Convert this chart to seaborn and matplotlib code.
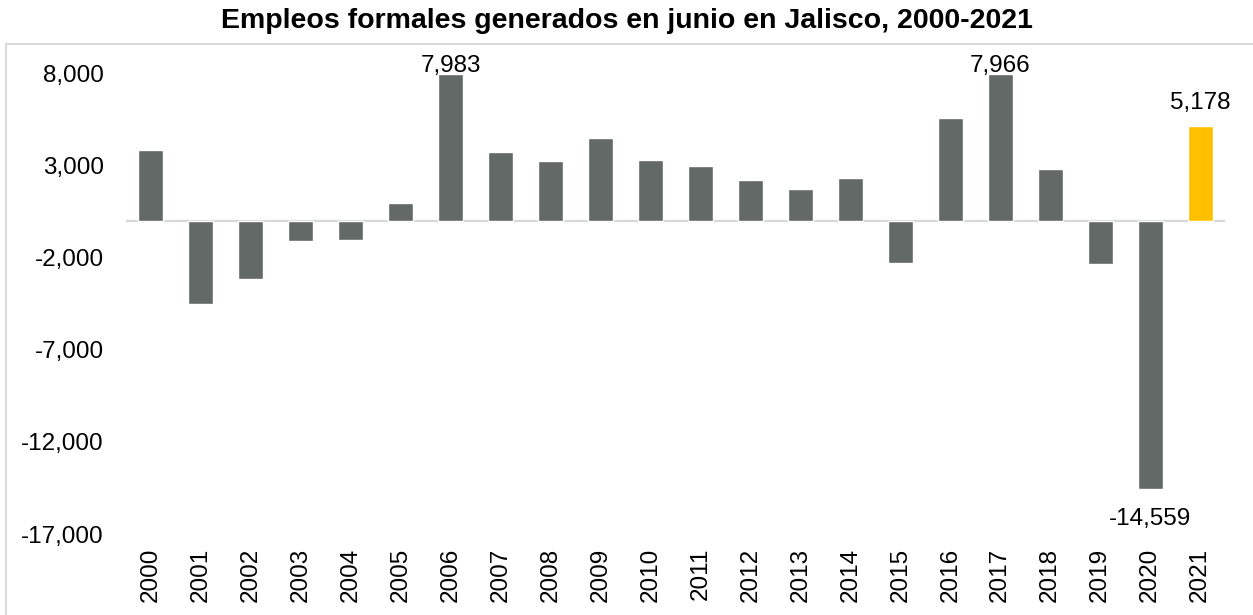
import matplotlib
matplotlib.use("Agg")
import matplotlib.pyplot as plt
import seaborn as sns
import pandas as pd
from matplotlib.lines import Line2D
from matplotlib.ticker import FuncFormatter

years = [str(y) for y in range(2000, 2022)]
empleos = [3840, -4525, -3150, -1090, -1030, 980, 7983, 3750, 3240, 4490, 3310,
           3000, 2210, 1740, 2320, -2300, 5610, 7966, 2820, -2350, -14559, 5178]
labeled_years = ["2006", "2017", "2020", "2021"]
yticks = [-17000, -12000, -7000, -2000, 3000, 8000]
title = "Empleos formales generados en junio en Jalisco, 2000-2021"

GRAY = "#626967"
YELLOW = "#FFC000"
LINE = "#D9D9D9"

sns.set_theme(style="white")
plt.rcParams["font.family"] = ["Liberation Sans", "DejaVu Sans"]

df = pd.DataFrame({"year": years, "value": empleos})
palette = {y: (YELLOW if y == "2021" else GRAY) for y in years}

W, H = 1253, 615
FS = 17.5
fig = plt.figure(figsize=(W / 100, H / 100), dpi=100)
ax = fig.add_axes([126 / W, 1 - 534 / H, (1225 - 126) / W, (534 - 73.7) / H])

sns.barplot(data=df, x="year", y="value", hue="year", palette=palette,
            legend=False, width=0.5, ax=ax, saturation=1)

ax.set_xlim(-0.5, len(years) - 0.5)
ax.set_ylim(-17000, 8000)
ax.set_yticks(yticks)
ax.yaxis.set_major_formatter(FuncFormatter(lambda v, p: f"{int(v):,}"))
ax.axhline(0, color=LINE, lw=1.6, zorder=0)
for s in ax.spines.values():
    s.set_visible(False)
ax.set_xlabel("")
ax.set_ylabel("")
ax.tick_params(axis="y", length=0, pad=16, labelsize=FS, labelcolor="black")
ax.tick_params(axis="x", length=0, pad=10, labelsize=FS, labelcolor="black",
               labelrotation=90)
ax.grid(False)

for i, (y, v) in enumerate(zip(years, empleos)):
    if y in labeled_years:
        if v >= 0:
            off = 12 if y == "2021" else 1.6
        else:
            off = -26
        ax.annotate(f"{v:,}", (i, v), xytext=(0, off), textcoords="offset points",
                    ha="center", va="baseline", fontsize=FS, color="black",
                    annotation_clip=False)

# outer frame (light gray)
fig.add_artist(Line2D([6 / W, 1.0], [1 - 44 / H, 1 - 44 / H],
                      transform=fig.transFigure, color=LINE, lw=1.5))
fig.add_artist(Line2D([6 / W, 6 / W], [0, 1 - 44 / H],
                      transform=fig.transFigure, color=LINE, lw=1.5))

fig.text(0.5, 1 - 21 / H, title, ha="center", va="center",
         fontsize=20.5, fontweight="bold", color="black")

fig.savefig("out.png", dpi=100)
